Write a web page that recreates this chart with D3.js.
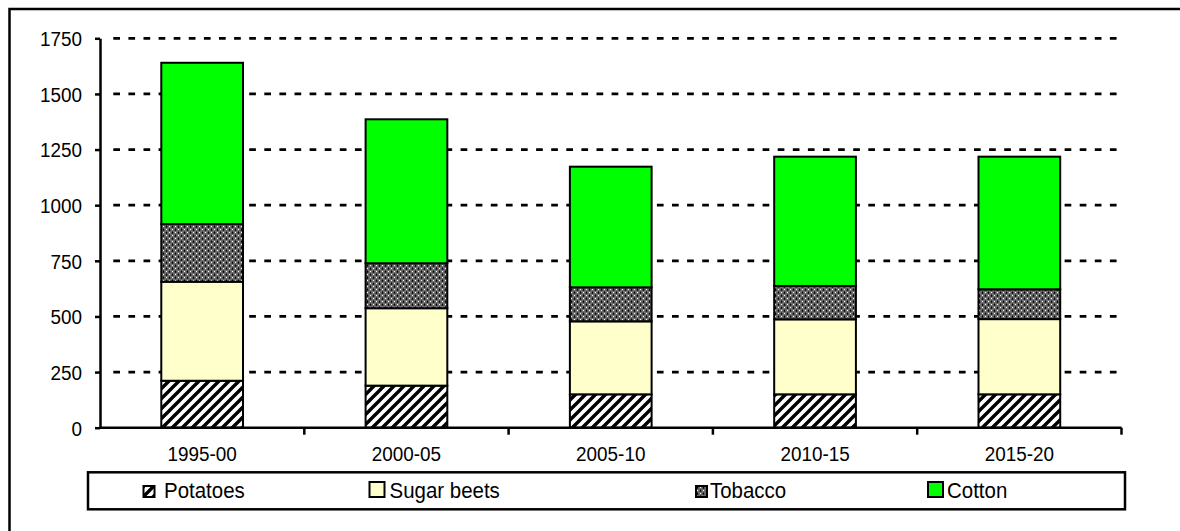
<!DOCTYPE html>
<html><head><meta charset="utf-8">
<script src="https://cdn.jsdelivr.net/npm/d3@7"></script>
<style>body{margin:0;background:#fff}svg{display:block}text{font-family:"Liberation Sans",Arial,sans-serif;fill:#000}</style>
</head><body><svg id="c" width="1180" height="531"></svg>
<script>
const categories = ["1995-00","2000-05","2005-10","2010-15","2015-20"];
const seriesNames = ["Potatoes","Sugar beets","Tobacco","Cotton"];
const potatoes = [211,189,150,150,150];
const sugarBeets = [445,348,328,337,338];
const tobacco = [259,202,153,150,134];
const cotton = [725,647,542,581,596];
const yTicks = [0,250,500,750,1000,1250,1500,1750];

const svg = d3.select("#c");
const defs = svg.append("defs");
const p1 = defs.append("pattern").attr("id","pPot").attr("patternUnits","userSpaceOnUse")
  .attr("width",10).attr("height",10);
p1.append("rect").attr("width",10).attr("height",10).attr("fill","#fff");
p1.append("path").attr("d","M-5,5 L5,-5 M0,10 L10,0 M5,15 L15,5")
  .attr("stroke","#000").attr("stroke-width",3.4);
const p2 = defs.append("pattern").attr("id","pTob").attr("patternUnits","userSpaceOnUse")
  .attr("width",6).attr("height",6);
p2.append("rect").attr("width",6).attr("height",6).attr("fill","#707070");
[[0,0],[3,3]].forEach(([x,y])=>{
  p2.append("rect").attr("x",x+0.5).attr("y",y+1.5).attr("width",2).attr("height",1).attr("fill","#000");
  p2.append("rect").attr("x",x+1).attr("y",y+0.5).attr("width",1).attr("height",2).attr("fill","#000");
});
[[4.5,1.5],[1.5,4.5]].forEach(([x,y])=>{
  p2.append("rect").attr("x",x-0.5).attr("y",y-0.5).attr("width",1).attr("height",1).attr("fill","#fff");
});

const fills = ["url(#pPot)","#FFFFCC","url(#pTob)","#00FF00"];
const seriesVals = [potatoes,sugarBeets,tobacco,cotton];

svg.append("path").attr("d","M9.5,540 V9 H1190").attr("fill","none").attr("stroke","#000").attr("stroke-width",2.5);

const x = d3.scaleBand().domain(categories).range([100,1121.5]).paddingInner(0.6).paddingOuter(0.3);
const xb = d3.scaleBand().domain(categories).range([100,1121.5]);
const y = d3.scaleLinear().domain([0,1750]).range([427.7,38.3]);

svg.append("g").selectAll("line").data(yTicks.filter(d=>d>0)).join("line")
  .attr("x1",113.3).attr("x2",1117.5).attr("y1",d=>y(d)).attr("y2",d=>y(d))
  .attr("stroke","#000").attr("stroke-width",2.8).attr("stroke-dasharray","6.7,8.4");

const table = categories.map((c,i)=>{const o={cat:c}; seriesNames.forEach((s,j)=>o[s]=seriesVals[j][i]); return o;});
const stacked = d3.stack().keys(seriesNames)(table);
svg.append("g").selectAll("g").data(stacked).join("g")
  .attr("fill",(d,i)=>fills[i])
  .selectAll("rect").data(d=>d).join("rect")
  .attr("x",d=>x(d.data.cat)).attr("width",x.bandwidth())
  .attr("y",d=>y(d[1])).attr("height",d=>y(d[0])-y(d[1]))
  .attr("stroke","#000").attr("stroke-width",2);

const ya = svg.append("g").attr("transform","translate(100,0)")
  .call(d3.axisLeft(y).tickValues(yTicks).tickFormat(d3.format("d")).tickSize(5).tickPadding(13).tickSizeOuter(0));
ya.select(".domain").attr("stroke","#000").attr("stroke-width",2.5);
ya.selectAll(".tick line").attr("stroke","#000").attr("stroke-width",2.5);
ya.selectAll(".tick text").attr("font-size",21).attr("font-family","Liberation Sans, Arial, sans-serif").attr("fill","#000")
  .attr("dy",null).attr("dominant-baseline","central")
  .attr("transform","translate(-18,0) scale(0.9,1)").attr("x",0).attr("text-anchor","end");

const xa = svg.append("g").attr("transform",`translate(0,${y(0)})`);
xa.append("line").attr("x1",100).attr("x2",1121.5).attr("stroke","#000").attr("stroke-width",2.5);
xa.selectAll(".bt").data(categories).join("line").attr("class","bt")
  .attr("x1",d=>xb(d)+xb.bandwidth()).attr("x2",d=>xb(d)+xb.bandwidth()).attr("y1",0).attr("y2",7)
  .attr("stroke","#000").attr("stroke-width",2.5);
xa.selectAll("text").data(categories).join("text")
  .attr("transform",d=>`translate(${xb(d)+xb.bandwidth()/2},33) scale(0.9,1)`).attr("text-anchor","middle")
  .attr("font-size",21).text(d=>d);

const lg = svg.append("g");
lg.append("rect").attr("x",88).attr("y",472.3).attr("width",1125-88).attr("height",37)
  .attr("fill","#fff").attr("stroke","#000").attr("stroke-width",2.5);
const legX = [143.5,369.5,696,928];
const legTX = [164,389.5,710,947];
const legS = [11,15,11,15];
seriesNames.forEach((s,i)=>{
  const sz = legS[i];
  lg.append("rect").attr("x",legX[i]).attr("y",497-sz).attr("width",sz).attr("height",sz)
    .attr("fill",fills[i]).attr("stroke","#000").attr("stroke-width",2);
  lg.append("text").attr("transform",`translate(${legTX[i]},498) scale(0.93,1)`).attr("font-size",22).text(s);
});
</script></body></html>
